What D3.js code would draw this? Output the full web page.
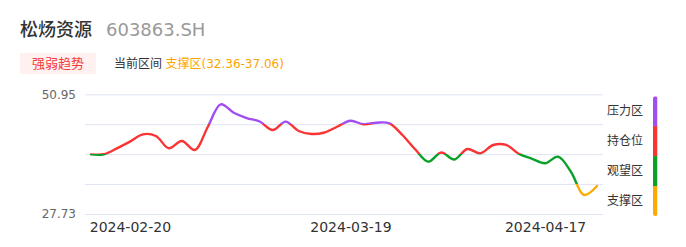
<!DOCTYPE html>
<html><head><meta charset="utf-8">
<script src="https://cdn.jsdelivr.net/npm/d3@7/dist/d3.min.js"></script>
<style>
body{margin:0;background:#fff}
svg{display:block;font-family:"DejaVu Sans","Noto Sans CJK SC",sans-serif}
</style>
</head><body>
<svg id="c" width="686" height="247"></svg>
<script>
// ---- data ----
const dates = ["2024-02-07","2024-02-08","2024-02-19","2024-02-20","2024-02-21","2024-02-22","2024-02-23","2024-02-26",
"2024-02-27","2024-02-28","2024-02-29","2024-03-01","2024-03-04","2024-03-05","2024-03-06","2024-03-07","2024-03-08",
"2024-03-11","2024-03-12","2024-03-15","2024-03-19","2024-03-20","2024-03-21","2024-03-22","2024-03-25","2024-03-26",
"2024-03-27","2024-03-28","2024-03-29","2024-04-01","2024-04-02","2024-04-03","2024-04-08","2024-04-09","2024-04-12",
"2024-04-17","2024-04-18","2024-04-19","2024-04-22","2024-04-23"];
const values = [39.30,39.32,40.46,41.76,43.19,42.86,40.48,41.89,40.15,44.61,49.01,47.38,46.35,45.67,44.02,45.64,43.83,
43.25,43.54,44.70,45.83,45.13,45.44,45.32,43.05,40.24,37.88,39.66,38.30,40.34,39.50,41.12,41.12,39.37,38.44,
37.57,38.85,35.88,31.42,33.16];
const yMin = 27.73, yMax = 50.95;
const yTickLabels = ["50.95", "27.73"];
const xTickLabels = ["2024-02-20", "2024-03-19", "2024-04-17"];
const zoneNames = ["压力区", "持仓位", "观望区", "支撑区"];
const zoneColors = ["#a24cf3", "#fa3434", "#0aa12a", "#fcaa04"];
const titleName = "松炀资源", titleCode = "603863.SH";
const badgeText = "强弱趋势", curLabel = "当前区间", curZone = "支撑区(32.36-37.06)";

// ---- layout ----
const svg = d3.select("#c");
const gridL = 85, gridR = 603, plotTop = 94.3, plotBottom = 214;
const x = d3.scalePoint().domain(dates).range([91, 597]);
const y = d3.scaleLinear().domain([yMin, yMax]).range([plotBottom, plotTop]);
const gridVals = d3.range(5).map(i => yMin + i * (yMax - yMin) / 4);

// header
svg.append("text").attr("x", 20).attr("y", 35.5).attr("font-size", 18).attr("fill", "#333")
  .attr("font-weight", 500).text(titleName);
svg.append("text").attr("x", 106).attr("y", 35.5).attr("font-size", 18).attr("fill", "#999").text(titleCode);
svg.append("rect").attr("x", 20).attr("y", 53).attr("width", 76).attr("height", 21).attr("fill", "#fff1f0");
svg.append("text").attr("x", 58).attr("y", 68).attr("text-anchor", "middle").attr("font-size", 13)
  .attr("fill", "#f53a3a").text(badgeText);
svg.append("text").attr("x", 114).attr("y", 67.5).attr("font-size", 12).attr("fill", "#333").text(curLabel);
svg.append("text").attr("x", 165.5).attr("y", 67.5).attr("font-size", 12).attr("fill", "#fca400").text(curZone);

// grid
const grid = svg.append("g").attr("transform", `translate(${gridL},0)`)
  .call(d3.axisLeft(y).tickValues(gridVals).tickSize(-(gridR - gridL)).tickFormat(""));
grid.select(".domain").remove();
grid.selectAll("line").attr("stroke", "#dfe4f3").attr("stroke-width", 1);

// y labels
const ya = svg.append("g").attr("transform", `translate(${gridL},0)`)
  .call(d3.axisLeft(y).tickValues([yMax, yMin]).tickSize(0).tickPadding(9)
    .tickFormat((d, i) => yTickLabels[i]));
ya.attr("font-family", null).attr("font-size", null);
ya.select(".domain").remove();
ya.selectAll("text").attr("font-size", 12).attr("fill", "#666");

// x labels
const xa = svg.append("g").attr("transform", `translate(0,${plotBottom})`)
  .call(d3.axisBottom(x).tickValues(xTickLabels).tickSize(0).tickPadding(8));
xa.attr("font-family", null).attr("font-size", null);
xa.select(".domain").remove();
xa.selectAll("text").attr("font-size", 14).attr("fill", "#333");

// gradient for zones
const defs = svg.append("defs");
const grad = defs.append("linearGradient").attr("id", "zg").attr("gradientUnits", "userSpaceOnUse")
  .attr("x1", 0).attr("x2", 0).attr("y1", y(yMax)).attr("y2", y(yMin));
const bounds = [yMax, gridVals[3], gridVals[2], gridVals[1], yMin];
zoneColors.forEach((c, i) => {
  const o1 = (y(bounds[i]) - y(yMax)) / (y(yMin) - y(yMax));
  const o2 = (y(bounds[i + 1]) - y(yMax)) / (y(yMin) - y(yMax));
  grad.append("stop").attr("offset", o1).attr("stop-color", c);
  grad.append("stop").attr("offset", o2).attr("stop-color", c);
});

const line = d3.line().x((d, i) => x(dates[i])).y(d => y(d)).curve(d3.curveCatmullRom.alpha(0.5));
svg.append("path").datum(values).attr("d", line).attr("fill", "none")
  .attr("stroke", "url(#zg)").attr("stroke-width", 2.4).attr("stroke-linejoin", "round").attr("stroke-linecap", "round");

// legend
const lx = 653, lw = 4.5, off = 2;
defs.append("clipPath").attr("id", "lc").append("rect")
  .attr("x", lx).attr("y", y(yMax) + off).attr("width", lw).attr("height", y(yMin) - y(yMax))
  .attr("rx", lw / 2);
const lg = svg.append("g").attr("clip-path", "url(#lc)");
zoneColors.forEach((c, i) => {
  lg.append("rect").attr("x", lx).attr("y", y(bounds[i]) + off).attr("width", lw)
    .attr("height", y(bounds[i + 1]) - y(bounds[i]) + 0.5).attr("fill", c);
});
zoneNames.forEach((n, i) => {
  svg.append("text").attr("x", 607).attr("y", (y(bounds[i]) + y(bounds[i + 1])) / 2 + off)
    .attr("dy", "0.35em").attr("font-size", 12).attr("fill", "#333").text(n);
});
</script>
</body></html>
